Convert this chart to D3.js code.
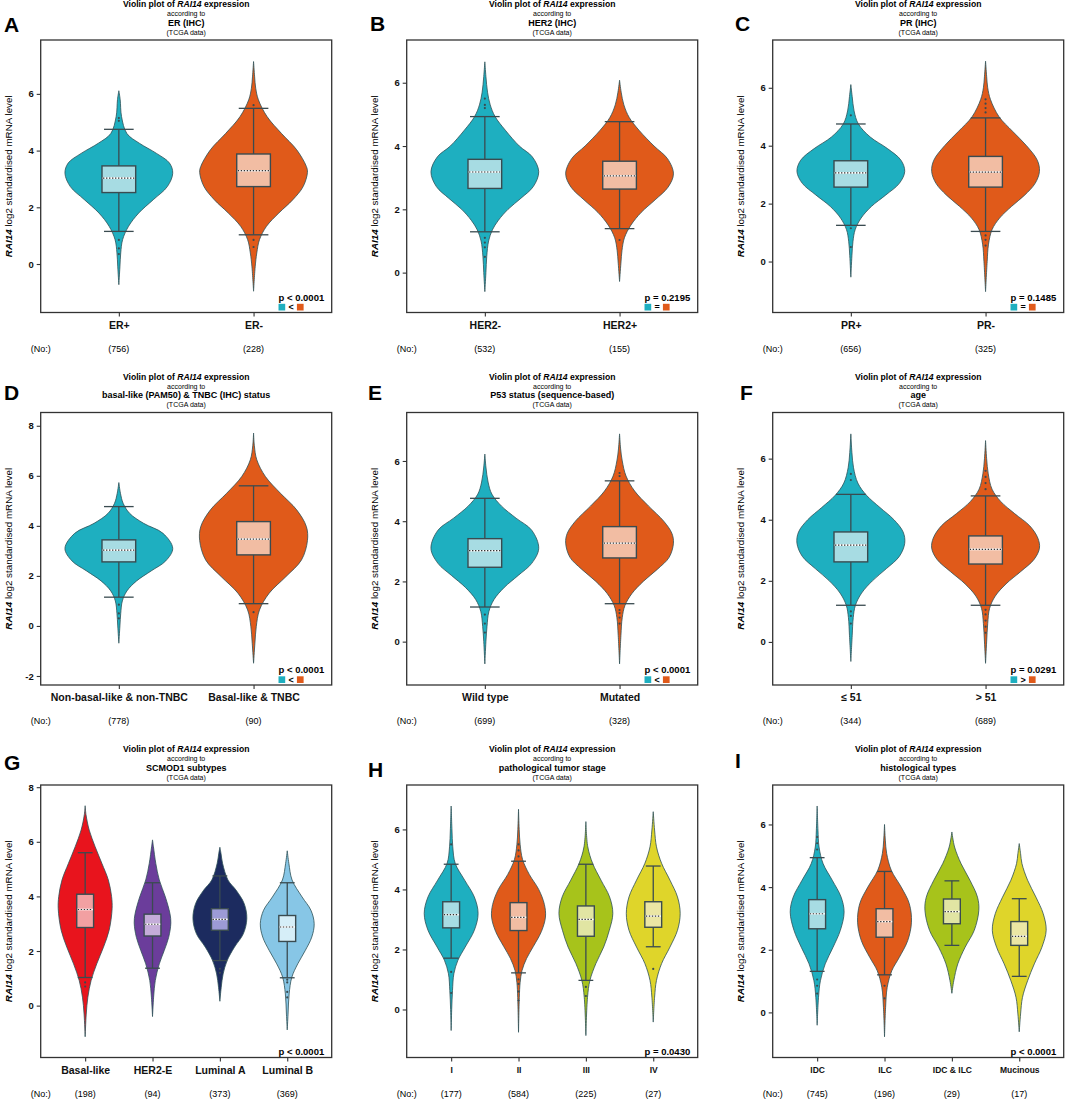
<!DOCTYPE html>
<html>
<head>
<meta charset="utf-8">
<script src="https://cdn.jsdelivr.net/npm/d3@7"></script>
<style>
  body { margin: 0; background: #fff; }
  svg { display: block; font-family: Arial, "Liberation Sans", Helvetica, sans-serif; }
</style>
</head>
<body>
<svg id="fig" width="1065" height="1099"></svg>
<script>
// ---- data ----
const letters = ['A', 'B', 'C', 'D', 'E', 'F', 'G', 'H', 'I'];
const subtitles = [
  'ER (IHC)', 'HER2 (IHC)', 'PR (IHC)',
  'basal-like (PAM50) & TNBC (IHC) status', 'P53 status (sequence-based)', 'age',
  'SCMOD1 subtypes', 'pathological tumor stage', 'histological types',
];
const groupLabels = [
  ['ER+', 'ER-'], ['HER2-', 'HER2+'], ['PR+', 'PR-'],
  ['Non-basal-like & non-TNBC', 'Basal-like & TNBC'], ['Wild type', 'Mutated'], ['≤ 51', '> 51'],
  ['Basal-like', 'HER2-E', 'Luminal A', 'Luminal B'], ['I', 'II', 'III', 'IV'],
  ['IDC', 'ILC', 'IDC & ILC', 'Mucinous'],
];
const groupCounts = [
  [756, 228], [532, 155], [656, 325], [778, 90], [699, 328], [344, 689],
  [198, 94, 373, 369], [177, 584, 225, 27], [745, 196, 29, 17],
];
const pValues = [
  'p < 0.0001', 'p = 0.2195', 'p = 0.1485', 'p < 0.0001', 'p < 0.0001',
  'p = 0.0291', 'p < 0.0001', 'p = 0.0430', 'p < 0.0001',
];
const pRelations = ['<', '=', '=', '<', '<', '>', null, null, null];
const yLimits = [
  [-1.71, 7.9], [-1.26, 7.35], [-1.76, 7.65], [-2.36, 8.53], [-1.44, 7.61],
  [-1.41, 7.51], [-1.9, 8.08], [-1.6, 7.48], [-1.44, 7.26],
];
const yTickValues = [
  [0, 2, 4, 6], [0, 2, 4, 6], [0, 2, 4, 6], [-2, 0, 2, 4, 6, 8], [0, 2, 4, 6],
  [0, 2, 4, 6], [0, 2, 4, 6, 8], [0, 2, 4, 6], [0, 2, 4, 6],
];

// [lower whisker, Q1, median, Q3, upper whisker]
const boxStats = [
  [[1.15, 2.52, 3.03, 3.46, 4.75], [1.03, 2.73, 3.29, 3.88, 5.49]],
  [[1.29, 2.66, 3.18, 3.58, 4.93], [1.39, 2.64, 3.06, 3.52, 4.77]],
  [[1.25, 2.57, 3.06, 3.48, 4.75], [1.04, 2.57, 3.09, 3.63, 4.96]],
  [[1.15, 2.56, 3.03, 3.44, 4.77], [0.89, 2.84, 3.47, 4.17, 5.6]],
  [[1.15, 2.47, 3.02, 3.42, 4.76], [1.26, 2.78, 3.27, 3.82, 5.34]],
  [[1.2, 2.62, 3.17, 3.6, 4.83], [1.2, 2.55, 3.03, 3.47, 4.78]],
  [[1.03, 2.86, 3.52, 4.08, 5.6], [1.37, 2.55, 2.98, 3.35, 4.5],
   [1.65, 2.76, 3.16, 3.55, 4.75], [1.02, 2.35, 2.88, 3.3, 4.5]],
  [[1.71, 2.72, 3.16, 3.59, 4.84], [1.22, 2.63, 3.07, 3.56, 4.94],
   [0.97, 2.44, 3.0, 3.45, 4.84], [2.09, 2.74, 3.11, 3.59, 4.78]],
  [[1.31, 2.67, 3.15, 3.6, 4.94], [1.2, 2.4, 2.9, 3.31, 4.5],
   [2.14, 2.83, 3.22, 3.62, 4.2], [1.15, 2.14, 2.43, 2.9, 3.63]],
];

// violin outlines: [expression level, relative density]
const violinProfiles = [
  [
    [[6.11, 0], [5.8, 0.025], [5.2, 0.05], [4.6, 0.15], [4.26, 0.38], [3.9, 0.7], [3.56, 0.94], [3.2, 1],
     [2.73, 0.9], [2.27, 0.64], [1.8, 0.37], [1.33, 0.18], [0.86, 0.07], [0.39, 0.035], [-0.1, 0.02], [-0.73, 0]],
    [[7.14, 0], [6.6, 0.02], [6.2, 0.04], [5.79, 0.09], [5.2, 0.25], [4.6, 0.52], [4.03, 0.8], [3.44, 0.98], [3.23, 1],
     [2.73, 0.92], [2.27, 0.73], [1.8, 0.47], [1.33, 0.24], [0.86, 0.11], [0.39, 0.06], [-0.1, 0.03], [-0.96, 0]],
  ],
  [
    [[6.66, 0], [6.2, 0.02], [5.7, 0.05], [5.3, 0.1], [4.93, 0.19], [4.5, 0.38], [4.0, 0.64], [3.66, 0.88], [3.19, 1],
     [2.72, 0.9], [2.35, 0.67], [2.0, 0.43], [1.65, 0.25], [1.35, 0.14], [1.0, 0.07], [0.5, 0.035], [0, 0.02], [-0.6, 0]],
    [[6.08, 0], [5.7, 0.03], [5.3, 0.08], [4.9, 0.18], [4.5, 0.36], [4.0, 0.64], [3.6, 0.89], [3.12, 1],
     [2.7, 0.9], [2.3, 0.66], [1.9, 0.4], [1.5, 0.21], [1.1, 0.09], [0.7, 0.045], [0.3, 0.025], [-0.28, 0]],
  ],
  [
    [[6.11, 0], [5.7, 0.025], [5.2, 0.06], [4.75, 0.14], [4.3, 0.36], [3.9, 0.68], [3.5, 0.93], [3.11, 1],
     [2.7, 0.9], [2.3, 0.65], [1.9, 0.38], [1.5, 0.19], [1.1, 0.08], [0.7, 0.04], [0.2, 0.02], [-0.54, 0]],
    [[6.92, 0], [6.4, 0.02], [6.0, 0.04], [5.6, 0.09], [5.0, 0.25], [4.5, 0.5], [4.0, 0.76], [3.5, 0.96], [3.11, 1],
     [2.7, 0.92], [2.3, 0.73], [1.9, 0.48], [1.5, 0.26], [1.1, 0.12], [0.6, 0.055], [0, 0.03], [-1.04, 0]],
  ],
  [
    [[5.73, 0], [5.3, 0.03], [4.9, 0.08], [4.5, 0.2], [4.1, 0.46], [3.7, 0.82], [3.1, 1],
     [2.6, 0.87], [2.2, 0.6], [1.8, 0.33], [1.4, 0.15], [1.0, 0.065], [0.5, 0.035], [0, 0.02], [-0.69, 0]],
    [[7.71, 0], [7.2, 0.015], [6.64, 0.06], [5.97, 0.22], [5.3, 0.5], [4.64, 0.8], [3.97, 0.98], [3.41, 1],
     [2.64, 0.89], [1.97, 0.6], [1.31, 0.29], [0.64, 0.11], [-0.03, 0.05], [-0.69, 0.025], [-1.49, 0]],
  ],
  [
    [[6.23, 0], [5.8, 0.02], [5.3, 0.06], [4.9, 0.13], [4.5, 0.31], [4.1, 0.58], [3.7, 0.87], [3.1, 1],
     [2.6, 0.87], [2.2, 0.62], [1.8, 0.36], [1.4, 0.17], [1.0, 0.075], [0.5, 0.04], [0, 0.02], [-0.74, 0]],
    [[6.9, 0], [6.4, 0.02], [6.0, 0.05], [5.5, 0.12], [5.0, 0.28], [4.5, 0.54], [4.0, 0.82], [3.6, 0.97], [3.27, 1],
     [2.8, 0.92], [2.4, 0.7], [2.0, 0.44], [1.6, 0.23], [1.2, 0.1], [0.8, 0.05], [0.2, 0.025], [-0.74, 0]],
  ],
  [
    [[6.81, 0], [6.2, 0.02], [5.7, 0.05], [5.2, 0.13], [4.8, 0.29], [4.4, 0.54], [4.0, 0.8], [3.6, 0.97], [3.23, 1],
     [2.8, 0.9], [2.4, 0.66], [2.0, 0.4], [1.6, 0.2], [1.2, 0.085], [0.8, 0.045], [0.2, 0.025], [-0.64, 0]],
    [[6.59, 0], [6.0, 0.02], [5.5, 0.05], [5.0, 0.12], [4.6, 0.28], [4.2, 0.54], [3.8, 0.82], [3.4, 0.97], [3.07, 1],
     [2.7, 0.9], [2.3, 0.65], [1.9, 0.38], [1.5, 0.18], [1.1, 0.075], [0.6, 0.04], [0, 0.02], [-0.7, 0]],
  ],
  [
    [[7.32, 0], [7.0, 0.03], [6.43, 0.15], [5.82, 0.37], [5.21, 0.62], [4.6, 0.86], [4.0, 0.98], [3.55, 1],
     [2.76, 0.89], [2.14, 0.68], [1.53, 0.43], [0.92, 0.22], [0.31, 0.1], [-0.31, 0.04], [-1.14, 0]],
    [[6.07, 0], [5.82, 0.05], [5.2, 0.18], [4.6, 0.37], [3.98, 0.7], [3.37, 0.95], [3.03, 1],
     [2.5, 0.88], [2.02, 0.64], [1.53, 0.37], [0.92, 0.15], [0.31, 0.06], [-0.4, 0]],
    [[5.8, 0], [5.58, 0.04], [5.21, 0.1], [4.6, 0.3], [4.23, 0.6], [3.74, 0.9], [3.19, 1],
     [2.63, 0.87], [2.14, 0.54], [1.65, 0.27], [1.16, 0.12], [0.67, 0.05], [0.16, 0]],
    [[5.67, 0], [5.21, 0.06], [4.6, 0.18], [3.98, 0.55], [3.49, 0.88], [3.0, 1],
     [2.51, 0.91], [2.02, 0.67], [1.53, 0.39], [1.04, 0.17], [0.43, 0.07], [-0.31, 0.03], [-0.89, 0]],
  ],
  [
    [[6.78, 0], [5.98, 0.03], [5.42, 0.06], [4.87, 0.15], [4.31, 0.5], [3.75, 0.86], [3.2, 1],
     [2.64, 0.86], [2.08, 0.52], [1.64, 0.25], [1.19, 0.1], [0.63, 0.05], [0, 0.02], [-0.7, 0]],
    [[6.67, 0], [6.0, 0.025], [5.5, 0.06], [5.0, 0.15], [4.5, 0.4], [4.0, 0.75], [3.5, 0.96], [3.08, 1],
     [2.6, 0.85], [2.1, 0.55], [1.7, 0.3], [1.3, 0.13], [0.9, 0.06], [0.4, 0.03], [-0.76, 0]],
    [[6.26, 0], [5.42, 0.07], [4.87, 0.25], [4.31, 0.56], [3.75, 0.88], [3.2, 1],
     [2.64, 0.87], [2.08, 0.66], [1.53, 0.37], [0.97, 0.15], [0.4, 0.06], [-0.87, 0]],
    [[6.59, 0], [5.98, 0.05], [5.42, 0.12], [4.87, 0.31], [4.31, 0.62], [3.75, 0.9], [3.2, 1],
     [2.64, 0.9], [2.08, 0.62], [1.53, 0.31], [0.97, 0.12], [0.41, 0.05], [-0.42, 0]],
  ],
  [
    [[6.59, 0], [5.82, 0.03], [5.28, 0.07], [4.75, 0.22], [4.22, 0.56], [3.68, 0.89], [3.2, 1],
     [2.62, 0.86], [2.08, 0.59], [1.55, 0.3], [1.01, 0.12], [0.48, 0.05], [-0.41, 0]],
    [[6.0, 0], [5.5, 0.03], [5.07, 0.08], [4.54, 0.25], [4.0, 0.62], [3.47, 0.92], [2.88, 1],
     [2.29, 0.86], [1.76, 0.55], [1.33, 0.27], [0.8, 0.1], [0.16, 0.04], [-0.78, 0]],
    [[5.76, 0], [5.28, 0.1], [4.75, 0.34], [4.22, 0.67], [3.68, 0.95], [3.26, 1],
     [2.62, 0.83], [2.08, 0.49], [1.55, 0.22], [1.01, 0.07], [0.61, 0]],
    [[5.39, 0], [5.07, 0.05], [4.75, 0.1], [4.22, 0.31], [3.68, 0.62], [3.15, 0.89], [2.62, 1],
     [2.08, 0.84], [1.55, 0.56], [1.01, 0.31], [0.48, 0.12], [-0.05, 0.05], [-0.62, 0]],
  ],
];
// peak density of each violin relative to the widest one
const violinPeaks = [
  [1, 1], [1, 1], [1, 1], [1, 1], [1, 1], [1, 1],
  [1, 0.68, 1, 1], [1, 1, 1, 1], [1, 1, 1, 1],
];
const outliers = [
  [[0.35, 0.55, 0.85, 5.05, 5.15], [0.6, 0.85, 5.6]],
  [[0.5, 0.8, 0.95, 1.1, 5.2, 5.3, 5.5], [1.03]],
  [[0.5, 1.15, 5.05], [0.55, 0.75, 0.9, 5.15, 5.3, 5.45, 5.6]],
  [[0.3, 0.5, 0.85], [0.55]],
  [[0.3, 0.6, 0.9], [0.6, 0.8, 0.95, 1.05, 5.5, 5.6]],
  [[0.6, 0.85, 1.0, 5.3, 5.5], [0.3, 0.5, 0.7, 0.9, 1.05, 5.0, 5.2, 5.4, 5.6]],
  [[0.7, 0.85], [], [1.2, 1.35], [0.3, 0.5, 0.85, 0.95]],
  [[0.55, 1.25, 5.5], [0.3, 0.6, 0.85, 1.0, 5.1, 5.3, 5.5], [0.45, 0.75], [1.35]],
  [[0.6, 0.85, 1.05, 5.2, 5.4, 5.6], [0.45, 0.85], [], []],
];

// ---- styling ----
const teal = ['#1eafc0', '#a7dce3'];
const orange = ['#e05a1a', '#f2bda3'];
const red = ['#e8141d', '#f2a0a2'];
const purple = ['#6b3d9b', '#c4acd9'];
const navy = ['#1c2b5f', '#9c9bd6'];
const lightBlue = ['#87c6e6', '#d6eef8'];
const green = ['#a7c31b', '#e1e5a3'];
const yellow = ['#dfd52a', '#ebe6a4'];
const panelColors = [
  [teal, orange], [teal, orange], [teal, orange], [teal, orange], [teal, orange], [teal, orange],
  [red, purple, navy, lightBlue], [teal, orange, green, yellow], [teal, orange, green, yellow],
];
const xLabelSize = [10.5, 10.5, 10.5, 10.5, 10.5, 10.5, 10.5, 8.5, 8.5];
const letterPos = [[4, 32], [370, 31], [735, 31], [4, 400], [368, 400], [740, 400], [4, 770], [368, 777], [735, 768]];

const LINE = '#3a4b50';
const COL_STEP = 366, ROW_STEP = 372.5;
const LEFT0 = 40.7, TOP0 = 40;
const BOX_W = 291, BOX_H = 272.5;

const svg = d3.select('#fig');

letters.forEach((letter, i) => {
  const col = i % 3;
  const row = Math.floor(i / 3);
  const left = LEFT0 + col * COL_STEP;
  const top = TOP0 + row * ROW_STEP;
  const n = groupLabels[i].length;

  const x = d3.scaleLinear()
    .domain([0.5 - 0.04 * n, n + 0.5 + 0.04 * n])
    .range([0, BOX_W]);
  const y = d3.scaleLinear().domain(yLimits[i]).range([BOX_H, 0]);
  const unit = x(2) - x(1);

  // panel letter
  svg.append('text')
    .attr('x', letterPos[i][0])
    .attr('y', letterPos[i][1])
    .attr('font-size', 21)
    .attr('font-weight', 'bold')
    .text(letter);

  const g = svg.append('g').attr('transform', `translate(${left},${top})`);

  // title block
  const title = g.append('text')
    .attr('x', BOX_W / 2).attr('y', -33)
    .attr('text-anchor', 'middle')
    .attr('font-size', 8.6).attr('font-weight', 'bold');
  title.append('tspan').text('Violin plot of ');
  title.append('tspan').attr('font-style', 'italic').text('RAI14');
  title.append('tspan').text(' expression');
  g.append('text')
    .attr('x', BOX_W / 2).attr('y', -24)
    .attr('text-anchor', 'middle').attr('font-size', 7)
    .text('according to');
  g.append('text')
    .attr('x', BOX_W / 2).attr('y', -14.3)
    .attr('text-anchor', 'middle').attr('font-size', 9).attr('font-weight', 'bold')
    .text(subtitles[i]);
  g.append('text')
    .attr('x', BOX_W / 2).attr('y', -5.5)
    .attr('text-anchor', 'middle').attr('font-size', 7)
    .text('(TCGA data)');

  // violins
  groupLabels[i].forEach((name, k) => {
    const cx = x(k + 1);
    const half = 0.4 * unit * violinPeaks[i][k];
    const colors = panelColors[i][k];
    const stats = boxStats[i][k];

    const area = d3.area()
      .curve(d3.curveCatmullRom.alpha(0.5))
      .y((d) => y(d[0]))
      .x0((d) => cx - d[1] * half)
      .x1((d) => cx + d[1] * half);

    g.append('path')
      .attr('class', 'violin')
      .attr('d', area(violinProfiles[i][k]))
      .attr('fill', colors[0])
      .attr('stroke', '#2d5057')
      .attr('stroke-width', 0.8);

    // whisker line and caps
    const capW = 0.11 * unit;
    const boxW = 0.125 * unit;
    g.append('line')
      .attr('x1', cx).attr('x2', cx)
      .attr('y1', y(stats[0])).attr('y2', y(stats[4]))
      .attr('stroke', LINE).attr('stroke-width', 1.3);
    g.selectAll(null)
      .data([stats[0], stats[4]])
      .join('line')
      .attr('x1', cx - capW).attr('x2', cx + capW)
      .attr('y1', (d) => y(d)).attr('y2', (d) => y(d))
      .attr('stroke', LINE).attr('stroke-width', 1.3);

    // outliers
    g.selectAll(null)
      .data(outliers[i][k])
      .join('circle')
      .attr('cx', cx).attr('cy', (d) => y(d))
      .attr('r', 1.1)
      .attr('fill', LINE);

    // box
    g.append('rect')
      .attr('x', cx - boxW).attr('width', 2 * boxW)
      .attr('y', y(stats[3])).attr('height', y(stats[1]) - y(stats[3]))
      .attr('fill', colors[1])
      .attr('stroke', LINE).attr('stroke-width', 1.4);

    // median: white line with dark dots
    g.append('line')
      .attr('x1', cx - boxW + 0.7).attr('x2', cx + boxW - 0.7)
      .attr('y1', y(stats[2])).attr('y2', y(stats[2]))
      .attr('stroke', '#fff').attr('stroke-width', 1.6);
    g.append('line')
      .attr('x1', cx - boxW + 1).attr('x2', cx + boxW - 1)
      .attr('y1', y(stats[2])).attr('y2', y(stats[2]))
      .attr('stroke', '#333').attr('stroke-width', 1.2)
      .attr('stroke-dasharray', '1.4,1.6');
  });

  // frame
  g.append('rect')
    .attr('width', BOX_W).attr('height', BOX_H)
    .attr('fill', 'none')
    .attr('stroke', '#333').attr('stroke-width', 1.3);

  // y axis
  const yAxis = g.append('g')
    .call(d3.axisLeft(y).tickValues(yTickValues[i]).tickSize(4).tickPadding(3)
      .tickFormat((d) => String(d)));
  yAxis.select('.domain').remove();
  yAxis.selectAll('line').attr('stroke', '#333').attr('stroke-width', 1.1);
  yAxis.selectAll('text')
    .attr('font-size', 9.5).attr('font-weight', 'bold').attr('fill', '#111')
    .attr('font-family', 'Arial, "Liberation Sans", sans-serif');

  const yTitle = g.append('text')
    .attr('transform', `translate(-28.5,${BOX_H / 2}) rotate(-90)`)
    .attr('text-anchor', 'middle')
    .attr('font-size', 9.8);
  yTitle.append('tspan').attr('font-weight', 'bold').attr('font-style', 'italic').text('RAI14');
  yTitle.append('tspan').text(' log2 standardised mRNA level');

  // x axis
  const xAxis = g.append('g')
    .attr('transform', `translate(0,${BOX_H})`)
    .call(d3.axisBottom(x).tickValues(d3.range(1, n + 1)).tickSize(4).tickPadding(5)
      .tickFormat((k) => groupLabels[i][k - 1]));
  xAxis.select('.domain').remove();
  xAxis.selectAll('line').attr('stroke', '#333').attr('stroke-width', 1.1);
  xAxis.selectAll('text')
    .attr('font-size', xLabelSize[i]).attr('font-weight', 'bold').attr('fill', '#111')
    .attr('font-family', 'Arial, "Liberation Sans", sans-serif');

  // sample counts
  g.append('text')
    .attr('x', 0).attr('y', BOX_H + 39)
    .attr('text-anchor', 'middle').attr('font-size', 9)
    .text('(No:)');
  g.selectAll(null)
    .data(groupCounts[i])
    .join('text')
    .attr('x', (d, k) => x(k + 1))
    .attr('y', BOX_H + 39)
    .attr('text-anchor', 'middle').attr('font-size', 9)
    .text((d) => `(${d})`);

  // p value and comparison legend
  const rel = pRelations[i];
  const pText = g.append('text')
    .attr('x', BOX_W - 7.5)
    .attr('y', rel ? BOX_H - 12 : BOX_H - 2.5)
    .attr('text-anchor', 'end')
    .attr('font-size', 9.5).attr('font-weight', 'bold')
    .text(pValues[i]);
  if (rel) {
    const x0 = BOX_W - 7.5 - pText.node().getComputedTextLength();
    const sq = 6.7;
    g.append('rect')
      .attr('x', x0).attr('y', BOX_H - 8.7).attr('width', sq).attr('height', sq)
      .attr('fill', panelColors[i][0][0]);
    g.append('text')
      .attr('x', x0 + 12.7).attr('y', BOX_H - 2.4)
      .attr('text-anchor', 'middle')
      .attr('font-size', 9).attr('font-weight', 'bold')
      .text(rel);
    g.append('rect')
      .attr('x', x0 + 18.4).attr('y', BOX_H - 8.7).attr('width', sq).attr('height', sq)
      .attr('fill', panelColors[i][1][0]);
  }
});
</script>
</body>
</html>
